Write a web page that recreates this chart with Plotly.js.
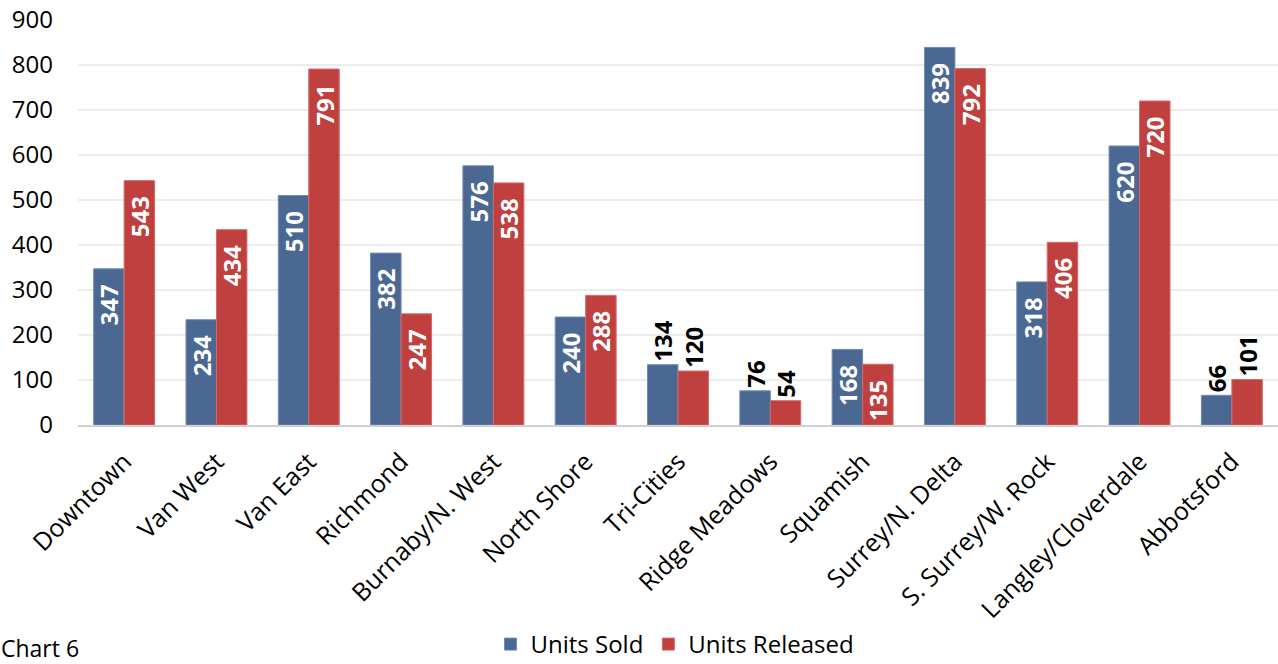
<!DOCTYPE html>
<html>
<head>
<meta charset="utf-8">
<script src="https://cdn.plot.ly/plotly-3.0.1.min.js"></script>
<style>
  html, body { margin: 0; padding: 0; background: #ffffff; }
  #chart { width: 1278px; height: 664px; }
</style>
</head>
<body>
<div id="chart"></div>
<script>
// Regions along the x axis
const regions = [
  "Downtown", "Van West", "Van East", "Richmond", "Burnaby/N. West",
  "North Shore", "Tri-Cities", "Ridge Meadows", "Squamish",
  "Surrey/N. Delta", "S. Surrey/W. Rock", "Langley/Cloverdale", "Abbotsford"
];

// Units sold and units released per region
const unitsSold     = [347, 234, 510, 382, 576, 240, 134, 76, 168, 839, 318, 620, 66];
const unitsReleased = [543, 434, 791, 247, 538, 288, 120, 54, 135, 792, 406, 720, 101];

// Where each value label sits (short bars carry their label above the bar)
const soldLabelPos     = ["inside","inside","inside","inside","inside","inside","outside","outside","inside","inside","inside","inside","outside"];
const releasedLabelPos = ["inside","inside","inside","inside","inside","inside","outside","outside","inside","inside","inside","inside","outside"];

const yTicks = [0, 100, 200, 300, 400, 500, 600, 700, 800, 900];

const FONT = "Open Sans, Liberation Sans, sans-serif";
// non-breaking spaces keep inside labels a little below the bar tops
const INSET = "\u00a0\u00a0";

function barTrace(name, values, positions, fill, edge) {
  return {
    type: "bar",
    name: name,
    x: regions,
    y: values,
    text: values.map((v, i) => positions[i] === "inside" ? String(v) + INSET : String(v)),
    textposition: positions,
    textangle: -90,
    insidetextanchor: "end",
    insidetextfont: { family: FONT, size: 24, color: "#ffffff", weight: 700 },
    outsidetextfont: { family: FONT, size: 24, color: "#000000", weight: 700 },
    cliponaxis: false,
    constraintext: "none",
    marker: { color: fill, line: { color: edge, width: 1 } },
    hoverinfo: "x+y+name"
  };
}

const data = [
  barTrace("Units Sold", unitsSold, soldLabelPos, "#4a6892", "#6f8cb3"),
  barTrace("Units Released", unitsReleased, releasedLabelPos, "#c0403f", "#d46868")
];

const layout = {
  width: 1278,
  height: 664,
  margin: { l: 78, r: 0, t: 20, b: 239, pad: 0, autoexpand: false },
  paper_bgcolor: "#ffffff",
  plot_bgcolor: "#ffffff",
  font: { family: FONT, size: 24, color: "#000000" },
  barmode: "group",
  bargap: 0.34,
  bargroupgap: 0,
  xaxis: {
    type: "category",
    tickangle: -45,
    tickfont: { family: FONT, size: 25, color: "#000000" },
    ticklabelstandoff: 10,
    showgrid: false,
    showline: true,
    linecolor: "#d0d0d0",
    linewidth: 2,
    ticks: "",
    zeroline: false,
    automargin: false
  },
  yaxis: {
    range: [0, 900],
    tickvals: yTicks,
    ticktext: yTicks.map(String),
    tickfont: { family: FONT, size: 24, color: "#000000" },
    showgrid: true,
    gridcolor: "#ececec",
    gridwidth: 1.5,
    zeroline: false,
    showline: false,
    ticks: "",
    ticklabelstandoff: 24,
    automargin: false
  },
  showlegend: true,
  legend: {
    orientation: "h",
    x: 0.4975,
    xanchor: "center",
    y: -0.542,
    yanchor: "middle",
    font: { family: FONT, size: 24, color: "#000000" },
    itemwidth: 30,
    tracegroupgap: 0,
    traceorder: "normal"
  },
  annotations: [
    {
      text: "Chart 6",
      xref: "paper",
      yref: "paper",
      x: -0.066,
      xanchor: "left",
      y: -0.55,
      yanchor: "middle",
      showarrow: false,
      font: { family: FONT, size: 23, color: "#000000" }
    }
  ]
};

Plotly.newPlot("chart", data, layout, { displayModeBar: false, staticPlot: true });
</script>
</body>
</html>
